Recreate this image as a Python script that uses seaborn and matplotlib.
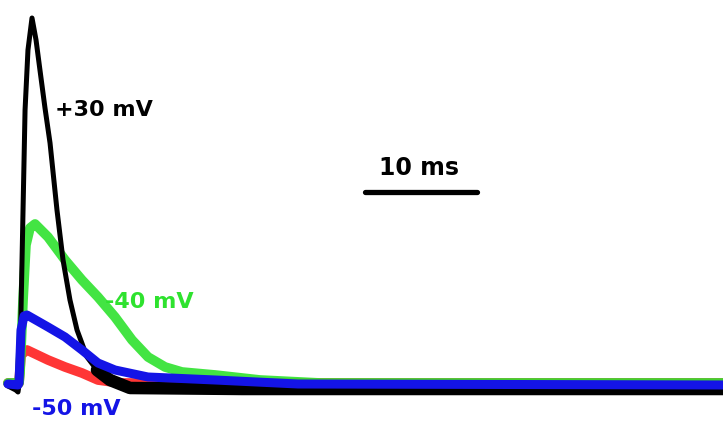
import matplotlib
matplotlib.use("Agg")
import matplotlib.pyplot as plt
import seaborn as sns
import pandas as pd

sns.set_theme(style="white")
plt.rcParams['font.family'] = ['DejaVu Sans']

# time in ms (0 = stimulus onset), current in arbitrary units (baseline 0)
t_black = [-0.9, -0.2, 0.0, 0.09, 0.18, 0.27, 0.45, 0.63, 0.89, 1.25, 1.61, 1.96, 2.41,
           2.86, 3.48, 4.02, 4.64, 5.27, 6.16, 7.05, 8.21, 10.0, 20.0, 35.0, 50.0, 63.0]
i_black = [-3, -7, -9, -2, 20, 73, 173, 273, 333, 365, 343, 313, 275,
           240, 173, 123, 83, 53, 26, 13, 3, -5, -6, -6, -6, -6]

t_green = [-0.9, 0.09, 0.18, 0.45, 0.71, 1.07, 1.52, 2.68, 4.20, 5.71, 7.14, 8.66,
           10.18, 11.61, 13.13, 14.64, 17.6, 21.6, 27.0, 63.0]
i_green = [0, 0, 10, 83, 138, 155, 159, 146, 123, 103, 86, 66,
           43, 26, 16, 11, 8, 3, 0, 0]

t_blue = [-0.9, 0.0, 0.09, 0.27, 0.54, 0.80, 2.68, 4.20, 5.71, 7.14, 8.66, 11.6, 17.6, 25.0, 63.0]
i_blue = [-1, -2, 0, 53, 67, 68, 56, 46, 33, 20, 13, 6, 3, -1, -2]

t_red = [-0.9, 0.09, 0.27, 0.80, 2.68, 4.20, 5.71, 7.14, 9.1, 63.0]
i_red = [0, 0, 28, 33, 23, 16, 10, 3, 0, 0]

labels = ["+30 mV", "-40 mV", "-50 mV"]
scale_ms = 10

fig = plt.figure(figsize=(7.23, 4.21), dpi=100)
ax = fig.add_axes([0, 0, 1, 1])

def trace(t, i):
    return pd.DataFrame({"t": t, "i": i})

c_black = "#000000"
c_green = "#2ee22e"
c_blue = "#1414e6"
c_red = "#ff2020"

sns.lineplot(data=trace(t_red, i_red), x="t", y="i", ax=ax, color=c_red, lw=7,
             sort=False, estimator=None, alpha=0.9)
sns.lineplot(data=trace(t_green, i_green), x="t", y="i", ax=ax, color=c_green, lw=7,
             sort=False, estimator=None, alpha=0.9)
# black trace: noisy band on baseline, thinner line on the transient
dfb = trace(t_black, i_black)
sns.lineplot(data=dfb[dfb.t >= 7.0], x="t", y="i", ax=ax, color=c_black, lw=9,
             sort=False, estimator=None)
sns.lineplot(data=dfb, x="t", y="i", ax=ax, color=c_black, lw=3.6,
             sort=False, estimator=None)
sns.lineplot(data=trace(t_blue, i_blue), x="t", y="i", ax=ax, color=c_blue, lw=6.5,
             sort=False, estimator=None)

# scale bar
sx0 = 31.0
ax.plot([sx0, sx0 + scale_ms], [191, 191], color="black", lw=3.8, solid_capstyle="round")
ax.text(35.76, 208, f"{scale_ms} ms", ha="center", va="baseline",
        fontsize=17, fontweight="bold", color="black")

ax.text(3.30, 267, labels[0], ha="left", va="baseline", fontsize=16,
        fontweight="bold", color="black")
ax.text(7.77, 75, labels[1], ha="left", va="baseline", fontsize=16,
        fontweight="bold", color=c_green)
ax.text(1.25, -32, labels[2], ha="left", va="baseline", fontsize=16,
        fontweight="bold", color=c_blue)

ax.set_xlim(-18 / 11.2, 705 / 11.2)
ax.set_ylim(-38, 383)
ax.axis("off")
if ax.get_legend() is not None:
    ax.get_legend().remove()

fig.savefig("out.png", dpi=100)
